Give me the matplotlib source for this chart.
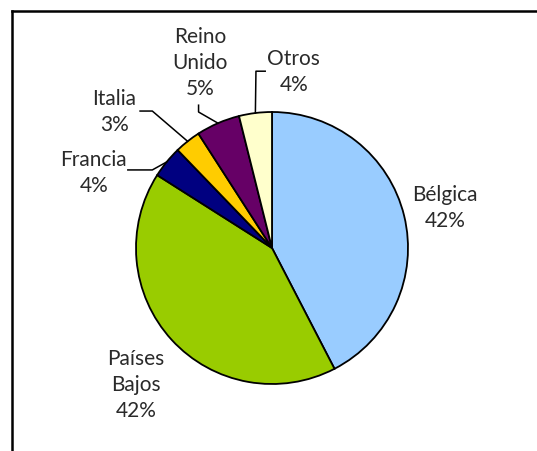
import numpy as np
import matplotlib.pyplot as plt
from matplotlib.lines import Line2D

# Shares by origin (%)
countries = ['Bélgica', 'Países Bajos', 'Francia', 'Italia', 'Reino Unido', 'Otros']
shares = [42.4, 41.6, 3.8, 3.1, 5.2, 3.9]
label_text = ['Bélgica', 'Países\nBajos', 'Francia', 'Italia', 'Reino\nUnido', 'Otros']
colors = ['#99CCFF', '#99CC00', '#000080', '#FFCC00', '#660066', '#FFFFCC']

# label layout (data units of the pie, radius = 1)
label_pos = [(1.27, 0.30), (-1.0, -1.0), (-1.31, 0.56), (-1.16, 1.01), (-0.53, 1.37), (0.16, 1.30)]
# leader line elbow + end point, None = no leader
leaders = [None, None,
           [(-0.88, 0.574), (-1.06, 0.574)],
           [(-0.88, 1.007), (-0.97, 1.007)],
           [(-0.54, 1.0), (-0.54, 1.05)],
           [(-0.118, 1.30), (-0.05, 1.30)]]

W, H = 537, 452
cx, cy, R = 272, 249, 136

fig = plt.figure(figsize=(W / 100, H / 100), dpi=100)
ax = fig.add_axes([(cx - R) / W, (H - cy - R) / H, 2 * R / W, 2 * R / H])

wedges, _ = ax.pie(shares, colors=colors, startangle=90, counterclock=False,
                   wedgeprops=dict(edgecolor='black', linewidth=1.3))
ax.set_xlim(-1, 1)
ax.set_ylim(-1, 1)
ax.set_aspect('equal')
ax.axis('off')

for w, lab, val, pos, ld in zip(wedges, label_text, shares, label_pos, leaders):
    ax.text(pos[0], pos[1], f"{lab}\n{val:.0f}%", ha='center', va='center',
            fontsize=15, family='Lato', color='#2a2a2a', linespacing=1.38)
    if ld is not None:
        mid = np.deg2rad((w.theta1 + w.theta2) / 2)
        xs = [np.cos(mid)] + [p[0] for p in ld]
        ys = [np.sin(mid)] + [p[1] for p in ld]
        ax.plot(xs, ys, color='black', lw=1.1, clip_on=False)

# chart area border (cropped on right and bottom)
fig.add_artist(Line2D([12 / W, 12 / W], [0, (H - 12) / H], color='black', lw=1.8))
fig.add_artist(Line2D([12 / W, 1], [(H - 12) / H, (H - 12) / H], color='black', lw=1.8))

fig.savefig('out.png', dpi=100)
